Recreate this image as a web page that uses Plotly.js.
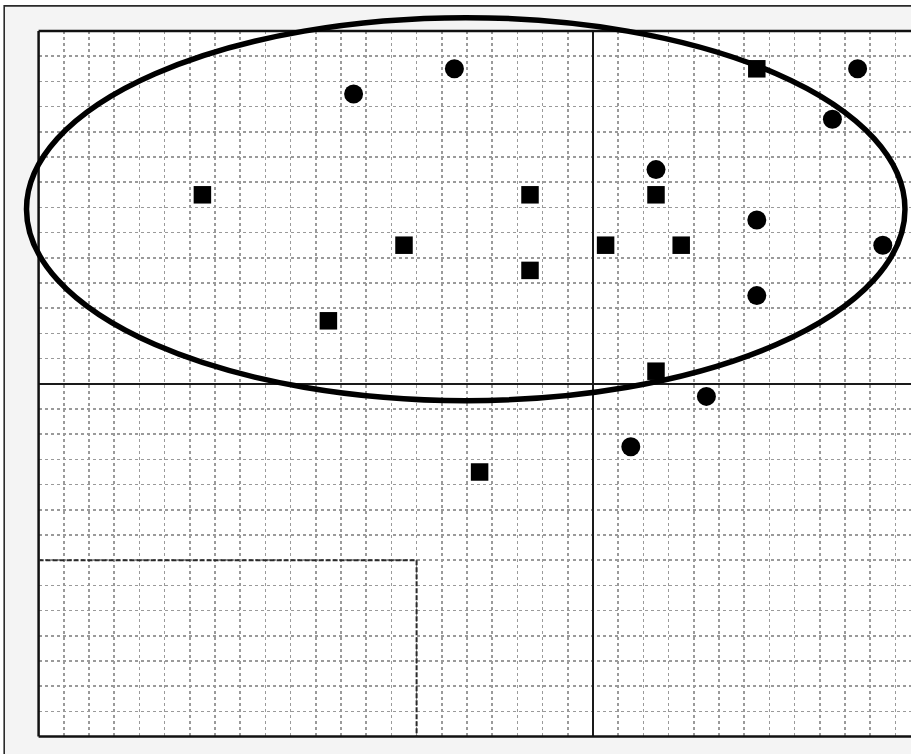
<!DOCTYPE html>
<html>
<head>
<meta charset="utf-8">
<script src="https://cdn.plot.ly/plotly-3.0.1.min.js"></script>
<style>
  html, body { margin: 0; padding: 0; background: #ffffff; overflow: hidden; }
  #chart { width: 911px; height: 754px; }
</style>
</head>
<body>
<div id="chart"></div>
<script>
// ---- data (grid-cell units, origin at the solid cross lines) ----
const circleX = [-5.5, -9.5, 10.5, 9.5, 2.5, 6.5, 11.5, 6.5, 4.5, 1.5];
const circleY = [12.5, 11.5, 12.5, 10.5, 8.5, 6.5, 5.5, 3.5, -0.5, -2.5];

const squareX = [6.5, -15.5, -2.5, 2.5, -7.5, 0.5, 3.5, -2.5, -10.5, 2.5, -4.5];
const squareY = [12.5, 7.5, 7.5, 7.5, 5.5, 5.5, 5.5, 4.5, 2.5, 0.5, -3.5];

// extent of the grid (in cells)
const gridX = [-22, 22];
const gridY = [-14, 14];

// dashed region corner (bottom-left region up to this corner)
const regionCorner = [-7, -7];

// ellipse: centre and semi-axes
const ellipseCenter = [-5.05, 6.93];
const ellipseRadii = [17.43, 7.6];

// ---- geometry of the page ----
const W = 911, H = 754;
const CELL = 25.2;          // px per unit
const OX = 593, OY = 383.8; // pixel position of the origin

// main subplot domain (clipped on the right by the window edge)
const leftPx = OX + gridX[0] * CELL;
const topPx = OY - gridY[1] * CELL;
const bottomPx = OY - gridY[0] * CELL;
const xRight = (W - OX) / CELL;

const xDomain = [leftPx / W, 1];
const yDomain = [(H - bottomPx) / H, (H - topPx) / H];

// full-canvas overlay axes with identical scale (for the ellipse)
const x2Range = [-OX / CELL, (W - OX) / CELL];
const y2Range = [(OY - H) / CELL, OY / CELL];

const traces = [
  {
    type: 'scatter', mode: 'markers', x: circleX, y: circleY,
    marker: { symbol: 'circle', size: 19, color: '#000000', line: { width: 0 } },
    hoverinfo: 'x+y', cliponaxis: false
  },
  {
    type: 'scatter', mode: 'markers', x: squareX, y: squareY,
    marker: { symbol: 'square', size: 17.5, color: '#000000', line: { width: 0 } },
    hoverinfo: 'x+y', cliponaxis: false
  },
  {
    type: 'scatter', mode: 'markers', x: [], y: [], xaxis: 'x2', yaxis: 'y2',
    showlegend: false, hoverinfo: 'skip'
  }
];

const gridAxis = {
  showgrid: true, gridcolor: '#9a9a9a', gridwidth: 1.5, griddash: '3px,3px',
  dtick: 1, tick0: 0, showticklabels: false, ticks: '',
  zeroline: true, zerolinecolor: '#1a1a1a', zerolinewidth: 2,
  showline: false, fixedrange: true
};

const borderLine = { color: '#111111', width: 2.5 };

const layout = {
  width: W, height: H,
  margin: { l: 0, r: 0, t: 0, b: 0, pad: 0 },
  paper_bgcolor: '#ffffff',
  plot_bgcolor: 'rgba(0,0,0,0)',
  showlegend: false,
  xaxis: Object.assign({}, gridAxis, {
    domain: xDomain, range: [gridX[0], xRight], anchor: 'y'
  }),
  yaxis: Object.assign({}, gridAxis, {
    domain: yDomain, range: gridY, anchor: 'x'
  }),
  xaxis2: { domain: [0, 1], range: x2Range, anchor: 'y2', visible: false,
            showgrid: false, zeroline: false, fixedrange: true },
  yaxis2: { domain: [0, 1], range: y2Range, anchor: 'x2', visible: false,
            showgrid: false, zeroline: false, fixedrange: true },
  shapes: [
    // outer light-grey frame
    { type: 'rect', xref: 'paper', yref: 'paper', layer: 'below',
      x0: 4.2 / W, x1: 1.05, y0: -0.05, y1: 1 - 5.9 / H,
      fillcolor: '#f4f4f4', line: { color: '#2a2a2a', width: 1.6 } },
    // white plotting area
    { type: 'rect', xref: 'x domain', yref: 'y domain', layer: 'below',
      x0: 0, x1: 1, y0: 0, y1: 1,
      fillcolor: '#ffffff', line: { width: 0 } },
    // borders of the plotting area (left, top, bottom)
    { type: 'line', xref: 'x domain', yref: 'y domain', layer: 'above',
      x0: 0, x1: 0, y0: 0, y1: 1, line: borderLine },
    { type: 'line', xref: 'x domain', yref: 'y domain', layer: 'above',
      x0: 0, x1: 1, y0: 1, y1: 1, line: borderLine },
    { type: 'line', xref: 'x domain', yref: 'y domain', layer: 'above',
      x0: 0, x1: 1, y0: 0, y1: 0, line: borderLine },
    // dashed region
    { type: 'line', xref: 'x', yref: 'y', layer: 'above',
      x0: gridX[0], x1: regionCorner[0], y0: regionCorner[1], y1: regionCorner[1],
      line: { color: '#2a2a2a', width: 2, dash: '5px,2px' } },
    { type: 'line', xref: 'x', yref: 'y', layer: 'above',
      x0: regionCorner[0], x1: regionCorner[0], y0: regionCorner[1], y1: gridY[0],
      line: { color: '#2a2a2a', width: 2, dash: '5px,2px' } },
    // ellipse
    { type: 'circle', xref: 'x2', yref: 'y2', layer: 'above',
      x0: ellipseCenter[0] - ellipseRadii[0], x1: ellipseCenter[0] + ellipseRadii[0],
      y0: ellipseCenter[1] - ellipseRadii[1], y1: ellipseCenter[1] + ellipseRadii[1],
      line: { color: '#000000', width: 5.5 }, fillcolor: 'rgba(0,0,0,0)' }
  ]
};

Plotly.newPlot('chart', traces, layout, { displayModeBar: false, staticPlot: true });
</script>
</body>
</html>
